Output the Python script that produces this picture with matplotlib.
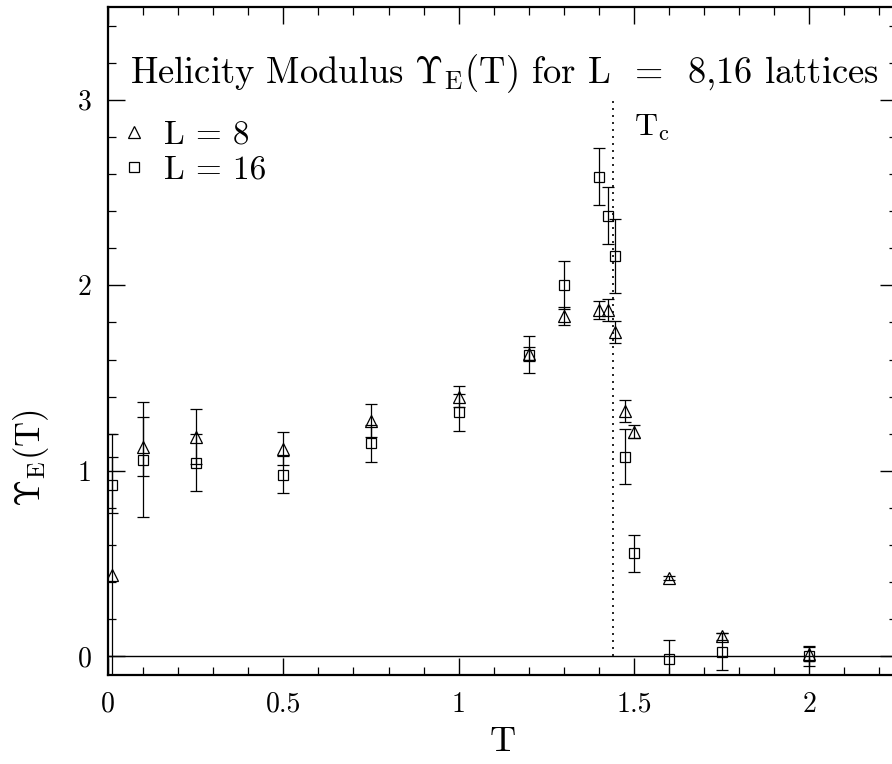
import matplotlib
matplotlib.use("Agg")
import matplotlib.pyplot as plt
from matplotlib.lines import Line2D
from matplotlib.ticker import MultipleLocator, FuncFormatter

plt.rcParams['font.family'] = ['cmr10', 'DejaVu Serif']
plt.rcParams['mathtext.fontset'] = 'cm'
plt.rcParams['axes.formatter.use_mathtext'] = True

# ---- data ----
T8 = [0.01, 0.1, 0.25, 0.5, 0.75, 1.0, 1.2, 1.3, 1.4, 1.425, 1.445, 1.475, 1.5, 1.6, 1.75, 2.0]
Y8 = [0.44, 1.13, 1.185, 1.12, 1.27, 1.40, 1.63, 1.835, 1.866, 1.866, 1.749, 1.324, 1.211, 0.423, 0.109, 0.015]
E8 = [0.76, 0.16, 0.15, 0.09, 0.09, 0.055, 0.04, 0.05, 0.05, 0.06, 0.06, 0.06, 0.035, 0.01, 0.02, 0.04]

T16 = [0.01, 0.1, 0.25, 0.5, 0.75, 1.0, 1.2, 1.3, 1.4, 1.425, 1.445, 1.475, 1.5, 1.6, 1.75, 2.0]
Y16 = [0.925, 1.06, 1.045, 0.98, 1.149, 1.316, 1.627, 2.0, 2.586, 2.376, 2.16, 1.077, 0.557, -0.012, 0.025, 0.0]
E16 = [0.15, 0.31, 0.155, 0.10, 0.10, 0.10, 0.10, 0.13, 0.155, 0.155, 0.20, 0.15, 0.10, 0.10, 0.10, 0.05]

Tc = 1.44
Tc_line_top = 3.0
labels = ["L = 8", "L = 16"]
title = r"Helicity Modulus $\Upsilon_{\rm E}$(T) for L  =  8,16 lattices"

fig = plt.figure(figsize=(8.92, 7.64), dpi=100)
ax = fig.add_axes([108/892, 89/764, 789/892, 668/764])

common = dict(color='k', mfc='none', mec='k', mew=0.9, elinewidth=0.9,
              capsize=4.5, capthick=0.9, ls='none')
ax.errorbar(T8, Y8, yerr=E8, fmt='^', ms=8.5, **common)
ax.errorbar(T16, Y16, yerr=E16, fmt='s', ms=7.5, **common)

ax.axhline(0, color='k', lw=1.0)
ax.plot([Tc, Tc], [0, Tc_line_top], color='k', ls=(0, (1.2, 3)), lw=1.2)
ax.text(Tc + 0.06, 2.85, r"T$_{\rm c}$", fontsize=23, va='center', ha='left')

ax.set_xlim(0, 2.25)
ax.set_ylim(-0.1, 3.5)

ax.xaxis.set_major_locator(MultipleLocator(0.5))
ax.xaxis.set_minor_locator(MultipleLocator(0.1))
ax.yaxis.set_major_locator(MultipleLocator(1))
ax.yaxis.set_minor_locator(MultipleLocator(0.2))
fmt = FuncFormatter(lambda v, p: "%g" % v)
ax.xaxis.set_major_formatter(fmt)
ax.yaxis.set_major_formatter(fmt)

ax.tick_params(which='both', direction='in', top=True, right=True, labelsize=20)
ax.tick_params(which='major', length=12, width=1.0, pad=12)
ax.tick_params(which='minor', length=5.5, width=0.9)
for s in ax.spines.values():
    s.set_linewidth(1.6)

ax.set_xlabel("T", fontsize=26, labelpad=6)
ax.set_ylabel(r"$\Upsilon_{\rm E}$(T)", fontsize=25)
ax.yaxis.set_label_coords(-0.072, 0.325)

ax.text(0.028, 0.901, title, transform=ax.transAxes, fontsize=26.3, ha='left', va='center')

handles = [Line2D([], [], marker='^', ls='none', mfc='none', mec='k', ms=8.5, mew=0.9),
           Line2D([], [], marker='s', ls='none', mfc='none', mec='k', ms=7.5, mew=0.9)]
ax.legend(handles, labels, loc='upper left', bbox_to_anchor=(-0.018, 0.87), frameon=False,
          fontsize=24, handlelength=0.8, handletextpad=0.5, labelspacing=0.15,
          borderaxespad=0.4)

fig.savefig("out.png", dpi=100)
